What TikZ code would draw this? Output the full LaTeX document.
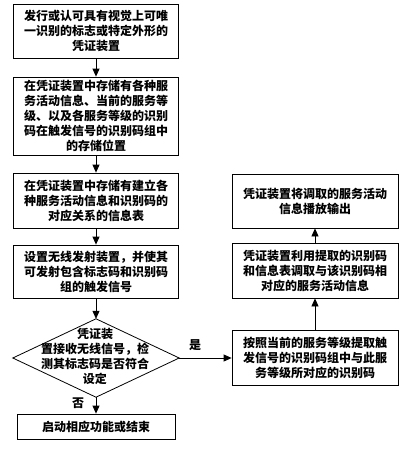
\documentclass[tikz,border=0pt]{standalone}
\usepackage{fontspec}
\newfontfamily\cjk{Noto Sans CJK SC}
\usetikzlibrary{arrows.meta}
\begin{document}
\begin{tikzpicture}[x=1pt,y=-1pt,
  every node/.style={font=\cjk\bfseries\fontsize{12}{15}\selectfont},
  box/.style={draw, line width=0.8pt, rectangle, align=center, inner sep=0pt, minimum width=#1},
  box/.default=165pt,
  arr/.style={line width=0.8pt, -{Triangle[length=8pt,width=7pt]}},
  lbl/.style={inner sep=0pt}]
\useasboundingbox (0,0) rectangle (408,450);
\node[box, minimum height=54pt] (b1) at (96,31) {发行或认可具有视觉上可唯\\一识别的标志或特定外形的\\凭证装置};
\node[box, minimum height=78pt] (b2) at (96,116) {在凭证装置中存储有各种服\\务活动信息、当前的服务等\\级、以及各服务等级的识别\\码在触发信号的识别码组中\\的存储位置};
\node[box, minimum height=55pt] (b3) at (96,200.5) {在凭证装置中存储有建立各\\种服务活动信息和识别码的\\对应关系的信息表};
\node[box, minimum height=53pt] (b4) at (96,271.5) {设置无线发射装置，并使其\\可发射包含标志码和识别码\\组的触发信号};
\node[rectangle, inner sep=0pt, minimum width=166pt, minimum height=78pt] (dia) at (96,358) {};
\draw[line width=0.8pt] (dia.north) -- (dia.east) -- (dia.south) -- (dia.west) -- cycle;
\node[align=center, inner sep=0pt] (diat) at (95,356) {凭证装\\置接收无线信号，检\\测其标志码是否符合\\设定};
\node[box=158pt, minimum height=25pt] (fin) at (96,426.5) {启动相应功能或结束};
\node[box=166pt, minimum height=54pt] (r1) at (315,201) {凭证装置将调取的服务活动\\信息播放输出};
\node[box=166pt, minimum height=55pt] (r2) at (315,270.5) {凭证装置利用提取的识别码\\和信息表调取与该识别码相\\对应的服务活动信息};
\node[box=166pt, minimum height=55pt] (r3) at (315,357.5) {按照当前的服务等级提取触\\发信号的识别码组中与此服\\务等级所对应的识别码};
\draw[arr] (b1) -- (b2);
\draw[arr] (b2) -- (b3);
\draw[arr] (b3) -- (b4);
\draw[arr] (b4) -- (dia.north);
\draw[arr] (dia.east) -- (r3.west |- dia.east);
\draw[arr] (dia.south) -- (fin);
\draw[arr] (r3) -- (r2);
\draw[arr] (r2) -- (r1);
\node[lbl] (yes) at (195,345) {是};
\node[lbl] (no) at (78,403) {否};
\end{tikzpicture}
\end{document}
